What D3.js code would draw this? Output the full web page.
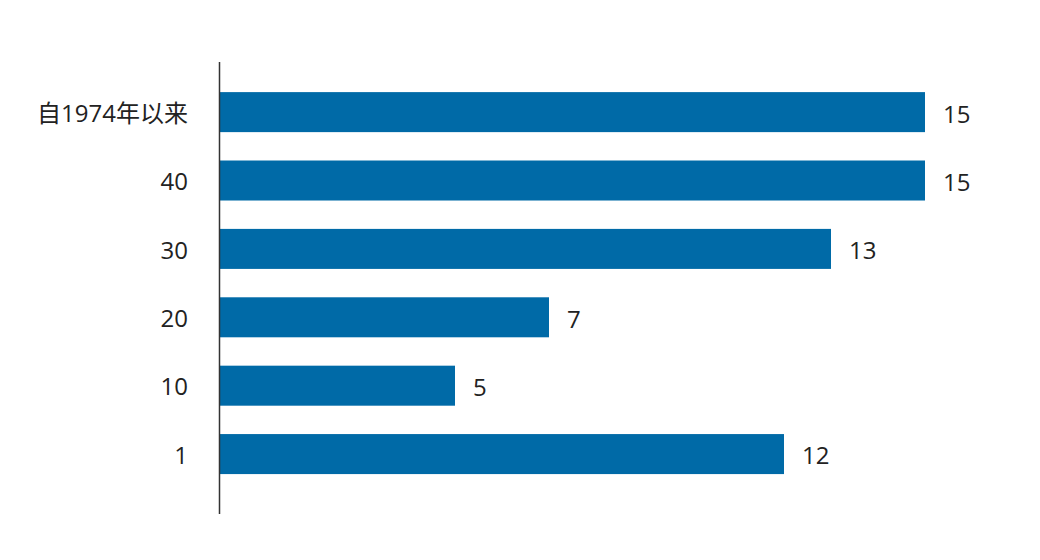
<html>
  <head>
    <meta charset="utf-8">
    <script src="https://cdn.jsdelivr.net/npm/d3@7"></script>
    <style>
      body { margin: 0; background: #fff; }
      text { font-family: "Open Sans", "Noto Sans CJK SC", sans-serif; }
    </style>
  </head>
  <body>
    <div id="main"></div>
  <script>
    var svgWidth = 1040;
    var svgHeight = 560;

    // categories top to bottom and their values
    var categories = ["自1974年以来", "40", "30", "20", "10", "1"];
    var values = [15, 15, 13, 7, 5, 12];

    var svg = d3.select("#main")
      .append("svg")
      .attr("width", svgWidth)
      .attr("height", svgHeight);

    var x = d3.scaleLinear()
      .domain([0, 15])
      .range([220, 925]);

    var y = d3.scaleBand()
      .domain(categories)
      .range([62, 514])
      .paddingInner(0.415)
      .paddingOuter(0.512)
      .align(0.43);

    var rows = categories.map(function(c, i) { return { cat: c, val: values[i] }; });

    svg.selectAll("rect.bar")
      .data(rows)
      .enter()
      .append("rect")
      .attr("class", "bar")
      .attr("x", x(0))
      .attr("y", function(d) { return y(d.cat); })
      .attr("width", function(d) { return x(d.val) - x(0); })
      .attr("height", y.bandwidth())
      .style("fill", "#006aa7");

    // value labels
    svg.selectAll("text.val")
      .data(rows)
      .enter()
      .append("text")
      .attr("class", "val")
      .attr("x", function(d) { return x(d.val) + 18; })
      .attr("y", function(d) { return y(d.cat) + y.bandwidth() / 2 + 2; })
      .attr("dy", "0.35em")
      .style("font-size", "24px")
      .style("fill", "#222")
      .text(function(d) { return d.val; });

    // y axis
    var yAxis = d3.axisLeft(y).tickSize(0).tickPadding(32);
    var g = svg.append("g")
      .attr("transform", "translate(" + x(0) + ",2)")
      .call(yAxis);
    g.select(".domain").remove();
    g.selectAll("text")
      .style("font-size", "24px")
      .style("fill", "#222")
      .style("font-family", "'Open Sans', 'Noto Sans CJK SC', sans-serif");

    svg.append("line")
      .attr("x1", x(0) - 0.5).attr("x2", x(0) - 0.5)
      .attr("y1", 62).attr("y2", 514)
      .style("stroke", "#333")
      .style("stroke-width", 1.5);
  </script>
  </body>
</html>
